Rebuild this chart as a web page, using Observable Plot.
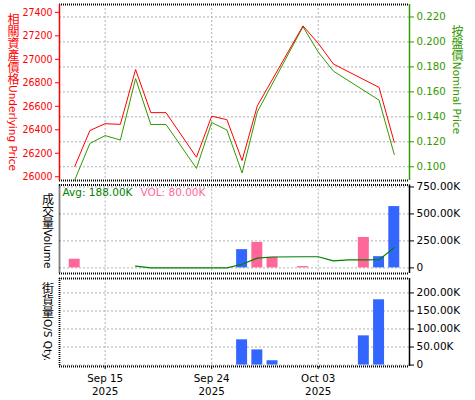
<!DOCTYPE html>
<html><head><meta charset="utf-8">
<script src="https://cdn.jsdelivr.net/npm/d3@7"></script>
<script src="https://cdn.jsdelivr.net/npm/@observablehq/plot@0.6"></script>
<style>
body{margin:0;background:#fff;}
#chart{position:relative;width:475px;height:400px;font-family:"DejaVu Sans","Noto Sans CJK TC",sans-serif;overflow:hidden;}
#chart svg{position:absolute;left:0;overflow:visible;background:transparent;}
.vt{position:absolute;writing-mode:vertical-rl;text-orientation:mixed;white-space:nowrap;transform:translate(-50%,-50%);line-height:1;}
.vt .cj{font-size:12px;font-family:"Noto Sans CJK TC",sans-serif;}
.vt .lt{font-size:10.5px;font-family:"DejaVu Sans",sans-serif;}
</style></head><body><div id="chart"></div>
<script>
// weekday slots of the x axis
const slots = ["09-10","09-11","09-12","09-15","09-16","09-17","09-18","09-19","09-22","09-23","09-24","09-25","09-26","09-29","09-30","10-01","10-02","10-03","10-06","10-07","10-08","10-09","10-10","10-13"];
const tickDays = ["09-15","09-24","10-03"];
const tickLabels = ["Sep 15\n2025","Sep 24\n2025","Oct 03\n2025"];

// price series
const priceDays = ["09-11","09-12","09-15","09-16","09-17","09-18","09-19","09-23","09-24","09-25","09-26","09-29","10-02","10-03","10-06","10-09","10-10"];
const underlying = [26087,26394,26452,26446,26913,26546,26546,26166,26516,26486,26138,26604,27285,27137,26960,26761,26292];
const nominal = [0.0894,0.1187,0.1250,0.1214,0.1707,0.1339,0.1339,0.0987,0.1355,0.1294,0.0950,0.1440,0.2122,0.1920,0.1766,0.1534,0.1098];
const underlyingTicks = [26000,26200,26400,26600,26800,27000,27200,27400];
const nominalTicks = [0.10,0.12,0.14,0.16,0.18,0.20,0.22];

// volume
const volDays = ["09-11","09-26","09-29","09-30","10-02","10-08","10-09","10-10"];
const volValues = [80000,169000,236000,98000,12000,282000,104000,568000];
const volDir = ["down","up","down","down","down","down","up","up"];
const avgDays = ["09-17","09-18","09-19","09-23","09-24","09-25","09-26","09-29","09-30","10-02","10-03","10-06","10-07","10-08","10-09","10-10"];
const avgValues = [16000,0,0,0,0,0,34000,90000,101000,103000,103000,65000,74000,74000,76000,188000];
const volTicks = [0,250000,500000,750000];
const lastAvg = 188000, lastVol = 80000;

// outstanding quantity
const osDays = ["09-26","09-29","09-30","10-08","10-09"];
const osValues = [70000,42000,12000,81000,181000];
const osTicks = [0,50000,100000,150000,200000];

const chart = document.getElementById("chart");
const W = 475, ML = 59, MR = 66;
const idx = d => slots.indexOf(d);
const xMax = slots.length - 1;
const xTicks = tickDays.map(idx);
const red = "#ff0000", green = "#339900", pink = "#ff6699", blue = "#3366ff", avgGreen = "#008000";
const grid = {stroke:"#b0b0b0", strokeOpacity:1, strokeDasharray:"2,2", strokeWidth:1};
const dotted = {stroke:"#000", strokeWidth:1.8, strokeDasharray:"1,1"};
const fmtK = d => d === 0 ? "0" : (d/1000).toFixed(2) + "K";

const und = priceDays.map((d,k)=>({i: idx(d), v: underlying[k]}));
const nom = priceDays.map((d,k)=>({i: idx(d), v: nominal[k]}));
const vol = volDays.map((d,k)=>({i: idx(d), v: volValues[k], dir: volDir[k]}));
const avg = avgDays.map((d,k)=>({i: idx(d), v: avgValues[k]}));
const os = osDays.map((d,k)=>({i: idx(d), v: osValues[k]}));

function place(svg, top){
  svg.style.top = top + "px";
  svg.style.background = "transparent";
  chart.appendChild(svg);
}
const base = {width: W, marginLeft: ML, marginRight: MR, style:{fontFamily:"DejaVu Sans", fontSize:"10px", background:"transparent", overflow:"visible"}};

// top: nominal (right axis, grid)
const yN = [0.089, 0.230];
place(Plot.plot({
  ...base, height: 185, marginTop: 4, marginBottom: 5,
  x: {domain: [0, xMax], axis: null},
  y: {domain: yN, axis: null},
  marks: [
    Plot.gridY(nominalTicks, grid),
    Plot.gridX(xTicks, grid),
    Plot.ruleY(yN, dotted),
    Plot.axisY(nominalTicks, {anchor:"right", tickFormat: d => d.toFixed(3), color: green, tickSize: 4, tickPadding: 3, label: null, fontSize: 10.2}),
    Plot.ruleX([xMax], {stroke: green, strokeWidth: 1.5}),
    Plot.line(nom, {x:"i", y:"v", stroke: green, strokeWidth: 1})
  ]
}), 0);

// top: underlying (left axis)
const yU = [25968, 27467];
place(Plot.plot({
  ...base, height: 185, marginTop: 4, marginBottom: 5,
  style: {...base.style, fontFamily: "DejaVu Sans Condensed, DejaVu Sans", fontStretch: "condensed"},
  x: {domain: [0, xMax], axis: null},
  y: {domain: yU, axis: null},
  marks: [
    Plot.axisY(underlyingTicks, {anchor:"left", tickFormat: d => String(d), color: red, tickSize: 4, tickPadding: 3, label: null, fontSize: 10.5}),
    Plot.ruleX([0], {stroke: red, strokeWidth: 1.5}),
    Plot.line(und, {x:"i", y:"v", stroke: red, strokeWidth: 1})
  ]
}), 0);

// volume
const yV = [-52000, 768000];
place(Plot.plot({
  ...base, height: 96, marginTop: 4.5, marginBottom: 3,
  x: {domain: [0, xMax], axis: null},
  y: {domain: yV, axis: null},
  color: {domain: ["down","up"], range: [pink, blue]},
  marks: [
    Plot.gridY(volTicks, grid),
    Plot.gridX(xTicks, grid),
    Plot.ruleY(yV, dotted),
    Plot.ruleX([0], dotted),
    Plot.axisY(volTicks, {anchor:"right", tickFormat: fmtK, color:"#000", tickSize: 4, tickPadding: 3, label: null, fontSize: 10.5}),
    Plot.ruleX([xMax], {stroke:"#000", strokeWidth: 1.5}),
    Plot.rect(vol, {x1: d => d.i - 0.36, x2: d => d.i + 0.36, y1: 0, y2: "v", fill: "dir"}),
    Plot.line(avg, {x:"i", y:"v", stroke: avgGreen, strokeWidth: 1.2}),
    Plot.text([`Avg: ${fmtK(lastAvg)}`], {frameAnchor:"top-left", textAnchor:"start", lineAnchor:"top", dx: 3, dy: 4, fill: avgGreen, fontSize: 10.5}),
    Plot.text([`VOL: ${fmtK(lastVol)}`], {frameAnchor:"top-left", textAnchor:"start", lineAnchor:"top", dx: 81, dy: 4, fill: pink, fontSize: 10.5})
  ]
}), 180);

// outstanding qty
const yO = [-4000, 240000];
place(Plot.plot({
  ...base, height: 126, marginTop: 4, marginBottom: 34,
  x: {domain: [0, xMax], axis: null},
  y: {domain: yO, axis: null},
  marks: [
    Plot.gridY(osTicks, grid),
    Plot.gridX(xTicks, grid),
    Plot.ruleY(yO, dotted),
    Plot.ruleX([0], dotted),
    Plot.axisY(osTicks, {anchor:"right", tickFormat: fmtK, color:"#000", tickSize: 4, tickPadding: 3, label: null, fontSize: 10.5}),
    Plot.ruleX([xMax], {stroke:"#000", strokeWidth: 1.5}),
    Plot.axisX(xTicks, {anchor:"bottom", tickFormat: d => tickLabels[xTicks.indexOf(d)], color:"#000", tickSize: 3, tickPadding: 3, label: null, fontSize: 10.3, lineHeight: 1.25}),
    Plot.rect(os, {x1: d => d.i - 0.36, x2: d => d.i + 0.36, y1: 0, y2: "v", fill: blue})
  ]
}), 274);

// vertical titles
function vtitle(cj, lt, x, y, color){
  const el = document.createElement("div");
  el.className = "vt";
  el.style.left = x + "px"; el.style.top = y + "px"; el.style.color = color;
  el.innerHTML = `<span class="cj">${cj}</span><span class="lt">${lt}</span>`;
  chart.appendChild(el);
}
vtitle("相關資產價格", "Underlying Price", 13, 92, red);
vtitle("按盤價", "Nominal Price", 457, 80, green);
vtitle("成交量", "Volume", 47.5, 231, "#000");
vtitle("街貨量", "O/S Qty.", 47.5, 322, "#000");
</script></body></html>
